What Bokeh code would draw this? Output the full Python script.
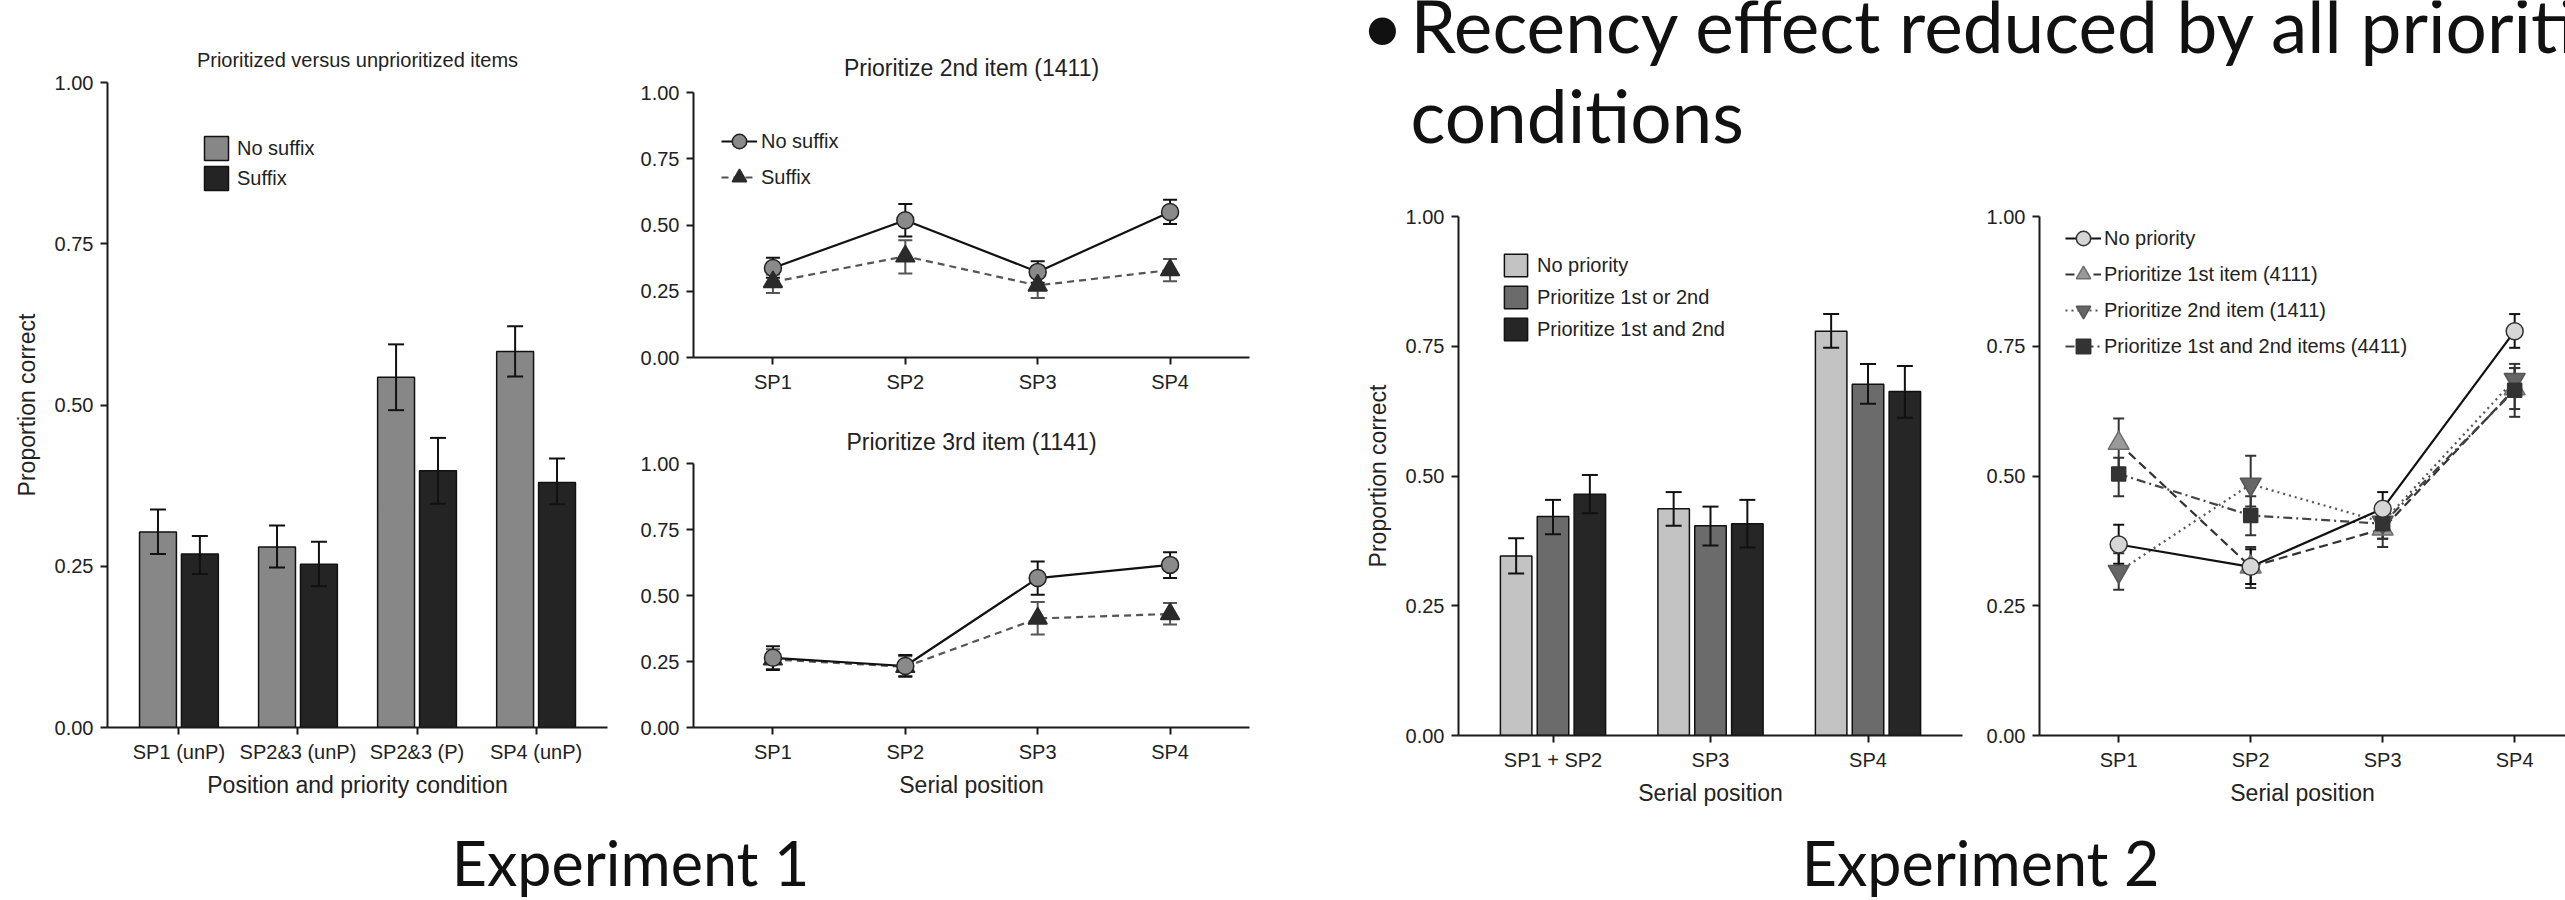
import numpy as np
from bokeh.plotting import figure
from bokeh.models import (ColumnDataSource, Range1d, FixedTicker, NumeralTickFormatter,
                          Whisker, TeeHead, Legend, LegendItem, Label)
from bokeh.layouts import row, column
from bokeh.embed import file_html
from bokeh.resources import INLINE

# ---------------- data ----------------
y_ticks = [0.0, 0.25, 0.5, 0.75, 1.0]

# Experiment 1 - prioritized versus unprioritized items (bars)
a_categories = ["SP1 (unP)", "SP2&3 (unP)", "SP2&3 (P)", "SP4 (unP)"]
a_nosuffix = [0.303, 0.280, 0.543, 0.583]
a_nosuffix_lo = [0.269, 0.248, 0.492, 0.544]
a_nosuffix_hi = [0.338, 0.313, 0.594, 0.622]
a_suffix = [0.269, 0.253, 0.398, 0.380]
a_suffix_lo = [0.238, 0.219, 0.347, 0.346]
a_suffix_hi = [0.297, 0.288, 0.449, 0.417]

# Experiment 1 - serial position curves
sp_labels = ["SP1", "SP2", "SP3", "SP4"]
b_nosuffix = [0.338, 0.518, 0.323, 0.549]
b_nosuffix_lo = [0.301, 0.457, 0.282, 0.504]
b_nosuffix_hi = [0.376, 0.579, 0.363, 0.595]
b_suffix = [0.285, 0.382, 0.272, 0.330]
b_suffix_lo = [0.243, 0.317, 0.225, 0.288]
b_suffix_hi = [0.313, 0.442, 0.313, 0.372]

c_nosuffix = [0.264, 0.233, 0.566, 0.616]
c_nosuffix_lo = [0.218, 0.192, 0.503, 0.566]
c_nosuffix_hi = [0.308, 0.275, 0.629, 0.664]
c_suffix = [0.258, 0.230, 0.413, 0.430]
c_suffix_lo = [0.222, 0.195, 0.352, 0.390]
c_suffix_hi = [0.296, 0.270, 0.475, 0.472]

# Experiment 2 - bars
d_categories = ["SP1 + SP2", "SP3", "SP4"]
d_none = [0.346, 0.437, 0.779]
d_none_lo = [0.312, 0.404, 0.747]
d_none_hi = [0.380, 0.469, 0.812]
d_one = [0.422, 0.404, 0.677]
d_one_lo = [0.388, 0.366, 0.639]
d_one_hi = [0.454, 0.441, 0.716]
d_both = [0.465, 0.408, 0.663]
d_both_lo = [0.428, 0.362, 0.612]
d_both_hi = [0.502, 0.454, 0.712]

# Experiment 2 - serial position curves
e_none = [0.368, 0.325, 0.437, 0.779]
e_none_lo = [0.331, 0.292, 0.406, 0.747]
e_none_hi = [0.406, 0.359, 0.469, 0.812]
e_first = [0.563, 0.325, 0.398, 0.668]
e_first_lo = [0.516, 0.284, 0.363, 0.629]
e_first_hi = [0.611, 0.363, 0.430, 0.708]
e_second = [0.316, 0.484, 0.411, 0.686]
e_second_lo = [0.281, 0.441, 0.379, 0.657]
e_second_hi = [0.351, 0.539, 0.441, 0.716]
e_both = [0.504, 0.424, 0.408, 0.665]
e_both_lo = [0.461, 0.386, 0.379, 0.614]
e_both_hi = [0.535, 0.461, 0.441, 0.708]

# ---------------- style ----------------
FONT = "Liberation Sans"
SLIDE_FONT = "Lato"
TXT = "#222222"
AXIS = "#1a1a1a"


def make_fig(w, h, l, r, t, b, xr, title=None, title_size="20px", title_standoff=13):
    p = figure(width=w, height=h, x_range=xr, y_range=Range1d(0, 1),
               min_border_left=l, min_border_right=r, min_border_top=t, min_border_bottom=b,
               output_backend="svg", toolbar_location=None, title=title)
    p.outline_line_color = None
    p.xgrid.visible = False
    p.ygrid.visible = False
    for ax in p.axis:
        ax.axis_line_color = AXIS
        ax.axis_line_width = 2
        ax.major_tick_line_color = AXIS
        ax.major_tick_line_width = 2
        ax.major_tick_out = 7
        ax.major_tick_in = 0
        ax.minor_tick_line_color = None
        ax.major_label_text_font = FONT
        ax.major_label_text_font_size = "20px"
        ax.major_label_text_color = TXT
        ax.axis_label_text_font = FONT
        ax.axis_label_text_font_size = "23px"
        ax.axis_label_text_font_style = "normal"
        ax.axis_label_text_color = TXT
    p.yaxis.ticker = FixedTicker(ticks=y_ticks)
    p.yaxis.formatter = NumeralTickFormatter(format="0.00")
    p.yaxis.major_label_standoff = 7
    p.xaxis.major_label_standoff = 6
    p.xaxis.axis_label_standoff = 6
    p.yaxis.axis_label_standoff = 12
    if title is not None:
        p.title.text_font = FONT
        p.title.text_font_size = title_size
        p.title.text_font_style = "normal"
        p.title.text_color = TXT
        p.title.align = "center"
        p.title.standoff = title_standoff
    return p


def set_categories(p, labels):
    pos = list(range(1, len(labels) + 1))
    p.xaxis.ticker = FixedTicker(ticks=pos)
    p.xaxis.major_label_overrides = {int(k): lab for k, lab in zip(pos, labels)}
    return np.array(pos, dtype=float)


def whisker(p, src, color, head, level):
    w = Whisker(source=src, base="x", upper="hi", lower="lo", line_color=color, line_width=2,
                upper_head=TeeHead(size=head, line_color=color, line_width=2),
                lower_head=TeeHead(size=head, line_color=color, line_width=2),
                level=level)
    p.add_layout(w)


def bar_series(p, x, vals, lo, hi, width, fill, head):
    src = ColumnDataSource(dict(x=list(x), top=vals, lo=lo, hi=hi))
    r = p.vbar(x="x", top="top", bottom=0, width=width, source=src,
               fill_color=fill, line_color="#111111", line_width=1.5)
    whisker(p, src, "#111111", head, "annotation")
    return r


def line_series(p, x, vals, lo, hi, marker, size, fill, mline, lcolor, dash, ecolor, head):
    src = ColumnDataSource(dict(x=list(x), y=vals, lo=lo, hi=hi))
    whisker(p, src, ecolor, head, "underlay")
    lr = p.line("x", "y", source=src, line_color=lcolor, line_width=2.2, line_dash=dash)
    sr = p.scatter("x", "y", source=src, marker=marker, size=size, fill_color=fill,
                   line_color=mline, line_width=1.5)
    return [lr, sr]


def add_legend(p, items, loc, gw, gh, spacing, standoff):
    lg = Legend(items=[LegendItem(label=lab, renderers=rs) for lab, rs in items],
                location=loc, orientation="vertical", padding=0, margin=0,
                spacing=spacing, glyph_width=gw, glyph_height=gh, label_height=gh,
                label_standoff=standoff, background_fill_alpha=0, border_line_color=None,
                label_text_font=FONT, label_text_font_size="20px", label_text_color=TXT)
    p.add_layout(lg)


# ---------------- Panel A ----------------
pA = make_fig(630, 800, 107, 23, 82, 72, Range1d(0.4, 4.6),
              title="Prioritized versus unprioritized items", title_size="20px",
              title_standoff=24)
xa = set_categories(pA, a_categories)
pA.xaxis.axis_label = "Position and priority condition"
pA.yaxis.axis_label = "Proportion correct"
rA1 = bar_series(pA, xa - 0.176, a_nosuffix, a_nosuffix_lo, a_nosuffix_hi, 0.31, "#878787", 16)
rA2 = bar_series(pA, xa + 0.176, a_suffix, a_suffix_lo, a_suffix_hi, 0.31, "#242424", 16)
add_legend(pA, [("No suffix", [rA1]), ("Suffix", [rA2])], (94, 534), 30, 30, 0, 6)

# ---------------- Panel B ----------------
pB = make_fig(700, 410, 63, 81, 92, 53, Range1d(0.4, 4.6), title="Prioritize 2nd item (1411)",
              title_size="23px", title_standoff=23)
xb = set_categories(pB, sp_labels)
rB1 = line_series(pB, xb, b_nosuffix, b_nosuffix_lo, b_nosuffix_hi, "circle", 17, "#8a8a8a",
                  "#222222", "#111111", "solid", "#111111", 14)
rB2 = line_series(pB, xb, b_suffix, b_suffix_lo, b_suffix_hi, "triangle", 19, "#2a2a2a",
                  "#2a2a2a", "#555555", "7 5", "#555555", 14)
add_legend(pB, [("No suffix", rB1), ("Suffix", rB2)], (28, 162), 36, 36, -4, 4)

# ---------------- Panel C ----------------
pC = make_fig(700, 390, 63, 81, 53, 72, Range1d(0.4, 4.6), title="Prioritize 3rd item (1141)",
              title_size="23px", title_standoff=18)
xc = set_categories(pC, sp_labels)
pC.xaxis.axis_label = "Serial position"
line_series(pC, xc, c_suffix, c_suffix_lo, c_suffix_hi, "triangle", 19, "#2a2a2a",
            "#2a2a2a", "#555555", "7 5", "#555555", 14)
line_series(pC, xc, c_nosuffix, c_nosuffix_lo, c_nosuffix_hi, "circle", 17, "#8a8a8a",
            "#222222", "#111111", "solid", "#111111", 14)

# ---------------- Panel D ----------------
pD = make_fig(650, 618, 128, 18, 26, 72, Range1d(0.4, 3.6))
xd = set_categories(pD, d_categories)
pD.xaxis.axis_label = "Serial position"
pD.yaxis.axis_label = "Proportion correct"
rD1 = bar_series(pD, xd - 0.234, d_none, d_none_lo, d_none_hi, 0.2, "#c3c3c3", 16)
rD2 = bar_series(pD, xd, d_one, d_one_lo, d_one_hi, 0.2, "#6b6b6b", 16)
rD3 = bar_series(pD, xd + 0.234, d_both, d_both_lo, d_both_hi, 0.2, "#262626", 16)
add_legend(pD, [("No priority", [rD1]), ("Prioritize 1st or 2nd", [rD2]),
                ("Prioritize 1st and 2nd", [rD3])], (43, 392), 29, 28, 4, 7)

# ---------------- Panel E ----------------
pE = make_fig(585, 618, 59, 0, 26, 72, Range1d(0.4, 4.385))
xe = set_categories(pE, sp_labels)
pE.xaxis.axis_label = "Serial position"
rE2 = line_series(pE, xe, e_first, e_first_lo, e_first_hi, "triangle", 21, "#9a9a9a",
                  "#6e6e6e", "#333333", "9 5", "#333333", 11)
rE3 = line_series(pE, xe, e_second, e_second_lo, e_second_hi, "inverted_triangle", 21, "#666666",
                  "#555555", "#555555", "2 4", "#333333", 11)
rE4 = line_series(pE, xe, e_both, e_both_lo, e_both_hi, "square", 14, "#333333",
                  "#333333", "#444444", "9 4 2 4", "#333333", 11)
rE1 = line_series(pE, xe, e_none, e_none_lo, e_none_hi, "circle", 17, "#d6d6d6",
                  "#333333", "#111111", "solid", "#111111", 11)
add_legend(pE, [("No priority", rE1), ("Prioritize 1st item (4111)", rE2),
                ("Prioritize 2nd item (1411)", rE3),
                ("Prioritize 1st and 2nd items (4411)", rE4)], (26, 371), 36, 36, -5, 3)


# ---------------- slide texts ----------------
def text_fig(w, h):
    p = figure(width=w, height=h, x_range=Range1d(0, w), y_range=Range1d(0, h), min_border=0,
               x_axis_location=None, y_axis_location=None,
               output_backend="svg", toolbar_location=None)
    p.outline_line_color = None
    p.xgrid.visible = False
    p.ygrid.visible = False
    return p


pExp1 = text_fig(1330, 100)
pExp1.add_layout(Label(x=630, y=38, text="Experiment 1", text_font=SLIDE_FONT,
                       text_font_size="61px", text_color="#111111", text_align="center",
                       text_baseline="alphabetic"))
pExp2 = text_fig(1235, 92)
pExp2.add_layout(Label(x=650, y=38, text="Experiment 2", text_font=SLIDE_FONT,
                       text_font_size="61px", text_color="#111111", text_align="center",
                       text_baseline="alphabetic"))

pBul = text_fig(1235, 190)
pBul.add_layout(Label(x=52, y=166, text="\u2022", text_font=SLIDE_FONT, text_font_size="73px",
                      text_color="#111111", text_align="center", text_baseline="alphabetic"))
pBul.add_layout(Label(x=80, y=166, text="Recency effect reduced by all prioritization",
                      text_font=SLIDE_FONT, text_font_size="73px", text_color="#111111",
                      text_align="left", text_baseline="alphabetic"))
pBul.add_layout(Label(x=80, y=76, text="conditions", text_font=SLIDE_FONT,
                      text_font_size="73px", text_color="#111111", text_align="left",
                      text_baseline="alphabetic"))

layout = row(
    column(row(pA, column(pB, pC)), pExp1),
    column(pBul, row(pD, pE), pExp2),
)

open("out.html", "w").write(file_html(layout, INLINE))
